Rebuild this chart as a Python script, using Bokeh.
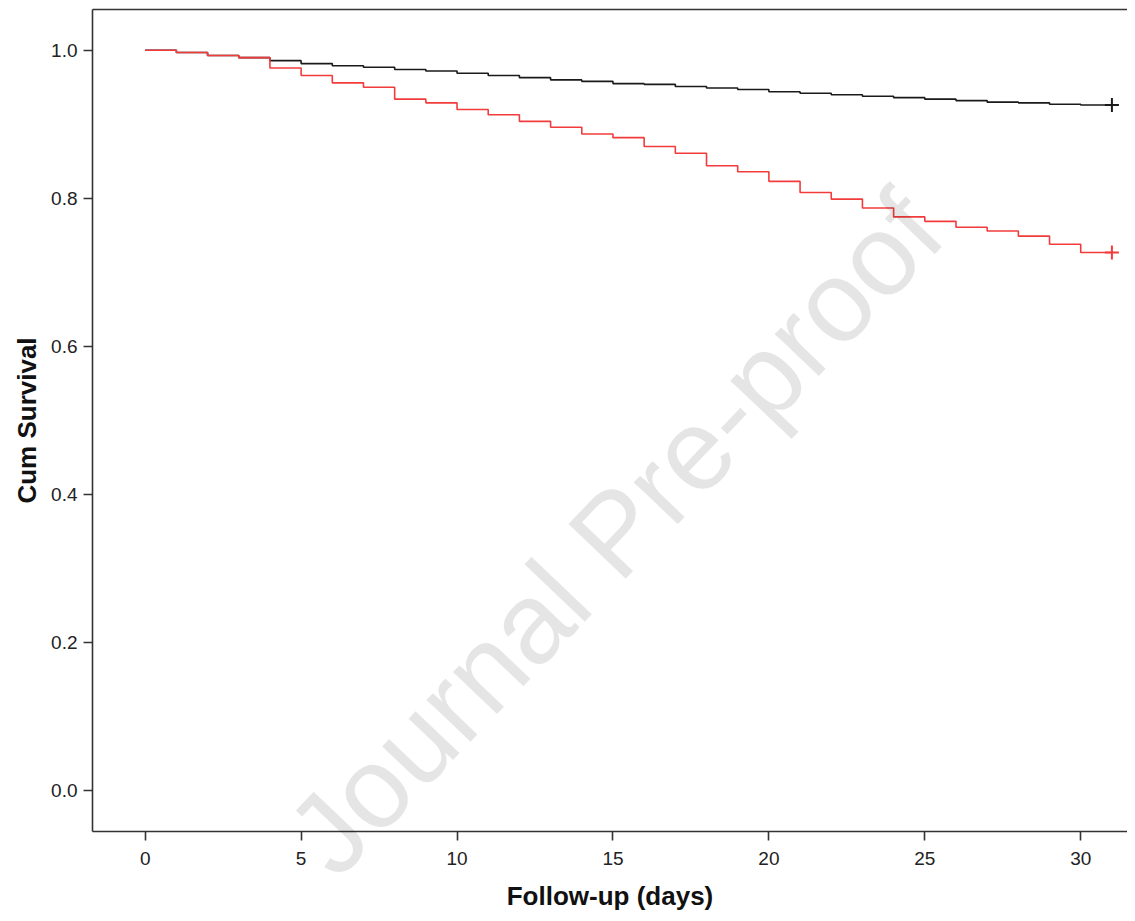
from bokeh.plotting import figure
from bokeh.models import Range1d, LinearAxis, FixedTicker, Label, NumeralTickFormatter
from bokeh.embed import file_html
from bokeh.resources import INLINE

# ---- data ----
days = list(range(0, 31))
follow_up_end = 31
group_black = [1.000, 0.997, 0.993, 0.990, 0.986, 0.982, 0.979, 0.977, 0.974, 0.972,
               0.969, 0.966, 0.963, 0.960, 0.958, 0.955, 0.954, 0.951, 0.949, 0.947,
               0.944, 0.942, 0.940, 0.938, 0.936, 0.934, 0.932, 0.930, 0.929, 0.927,
               0.926]
group_red = [1.000, 0.997, 0.993, 0.990, 0.976, 0.966, 0.956, 0.950, 0.934, 0.929,
             0.920, 0.913, 0.904, 0.896, 0.887, 0.882, 0.870, 0.861, 0.844, 0.836,
             0.823, 0.808, 0.799, 0.787, 0.775, 0.769, 0.761, 0.756, 0.749, 0.738,
             0.727]
x_ticks = [0, 5, 10, 15, 20, 25, 30]
y_ticks = [0.0, 0.2, 0.4, 0.6, 0.8, 1.0]
x_title = "Follow-up (days)"
y_title = "Cum Survival"
watermark = "Journal Pre-proof"

FONT = "Liberation Sans"
AXIS_COLOR = "#333333"

# visible plot box (data units) and the whole canvas extent around it
X0, X1 = -1.69, 31.5
Y0, Y1 = -0.055, 1.055

p = figure(width=1127, height=913, output_backend="svg", toolbar_location=None,
           x_range=Range1d(-4.64, 31.5), y_range=Range1d(-0.1657, 1.0672),
           min_border_left=0, min_border_top=0, min_border_right=0, min_border_bottom=0)
p.outline_line_color = None
p.grid.visible = False
p.background_fill_color = "white"
p.border_fill_color = "white"

xs = days + [follow_up_end]
p.step(xs, group_black + [group_black[-1]], mode="after", line_color="#1a1a1a", line_width=1.6)
p.step(xs, group_red + [group_red[-1]], mode="after", line_color="#f23c3c", line_width=1.6)
p.scatter([follow_up_end], [group_black[-1]], marker="cross", size=14, line_color="#1a1a1a", line_width=2)
p.scatter([follow_up_end], [group_red[-1]], marker="cross", size=14, line_color="#f23c3c", line_width=2)

# watermark (translucent so the curves stay visible through it)
wm = Label(x=614, y=381, x_units="screen", y_units="screen", text=watermark,
           angle=0.81, text_align="center", text_baseline="middle",
           text_font=FONT, text_font_size="115px", text_color="black", text_alpha=0.1,
           level="overlay")
p.add_layout(wm)

xa = p.xaxis[0]
ya = p.yaxis[0]
xa.fixed_location = Y0
ya.fixed_location = X0
xa.bounds = (X0, X1)
ya.bounds = (Y0, Y1)

for ax in (xa, ya):
    ax.axis_line_color = AXIS_COLOR
    ax.axis_line_width = 1.6
    ax.major_tick_line_color = AXIS_COLOR
    ax.major_tick_line_width = 1.6
    ax.major_tick_out = 9
    ax.major_tick_in = 0
    ax.minor_tick_line_color = None
    ax.major_label_text_font = FONT
    ax.major_label_text_font_size = "19px"
    ax.major_label_text_color = "#222222"
    ax.axis_label_text_font = FONT
    ax.axis_label_text_font_size = "26px"
    ax.axis_label_text_font_style = "bold"
    ax.axis_label_text_color = "#111111"

xa.ticker = FixedTicker(ticks=x_ticks)
ya.ticker = FixedTicker(ticks=y_ticks)
ya.formatter = NumeralTickFormatter(format="0.0")
xa.axis_label = x_title
ya.axis_label = y_title
xa.major_label_standoff = 11
xa.axis_label_standoff = 13
ya.major_label_standoff = 6
ya.axis_label_standoff = 6

top = LinearAxis(ticker=FixedTicker(ticks=[]), axis_line_color=AXIS_COLOR, axis_line_width=1.6,
                 major_label_text_font_size="0px", minor_tick_line_color=None,
                 major_tick_line_color=None, fixed_location=Y1, bounds=(X0, X1))
p.add_layout(top, "above")

open("out.html", "w").write(file_html(p, INLINE))
